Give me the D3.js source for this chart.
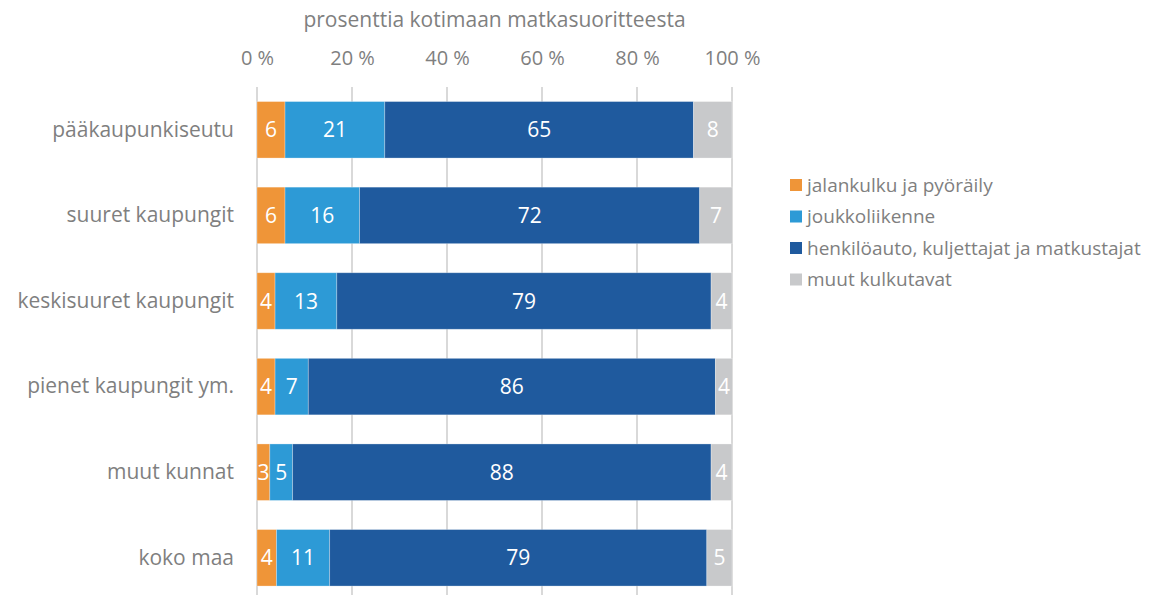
<!DOCTYPE html>
<html>
<head>
<meta charset="utf-8">
<script src="https://cdn.jsdelivr.net/npm/d3@7"></script>
<style>
  body { margin: 0; background: #fff; }
  svg text { font-family: "Open Sans", Lato, sans-serif; }
</style>
</head>
<body>
<svg id="chart" width="1151" height="595"></svg>
<script>
// alueet (ylhäältä alas)
var categories = ["pääkaupunkiseutu", "suuret kaupungit", "keskisuuret kaupungit",
                  "pienet kaupungit ym.", "muut kunnat", "koko maa"];
var seriesNames = ["jalankulku ja pyöräily", "joukkoliikenne",
                   "henkilöauto, kuljettajat ja matkustajat", "muut kulkutavat"];
// osuudet, % (luettu kuvasta)
var walkBike = [5.9, 5.9, 3.8, 3.8, 2.7, 4.1];
var transit  = [21.0, 15.7, 13.0, 7.0, 4.8, 11.2];
var car      = [65.0, 71.6, 78.8, 85.7, 88.1, 79.4];
var other    = [8.1, 6.9, 4.4, 3.6, 4.4, 5.3];
var xTicks = [0, 20, 40, 60, 80, 100];
var colors = ["#EF9538", "#2D9AD6", "#1F5A9E", "#C8C9CB"];

var svg = d3.select("#chart");
var margin = {left: 257, right: 419, top: 87};
var width = 1151 - margin.left - margin.right;
var plotH = 6 * 85.6;

var g = svg.append("g").attr("transform", "translate(" + margin.left + "," + margin.top + ")");

var x = d3.scaleLinear().domain([0, 100]).range([0, width]);
var y = d3.scaleBand().domain(categories).range([0, plotH])
    .paddingInner(0.34).paddingOuter(0.17);

// gridlines
g.append("g").selectAll("line")
    .data(xTicks)
    .enter().append("line")
    .attr("x1", function(d) { return x(d); })
    .attr("x2", function(d) { return x(d); })
    .attr("y1", 0)
    .attr("y2", plotH)
    .attr("stroke", "#D9D9D9")
    .attr("stroke-width", 2);

// top axis
var xAxis = d3.axisTop(x).tickValues(xTicks)
    .tickFormat(function(d) { return d + " %"; })
    .tickSize(0).tickPadding(22);
var ax = g.append("g").call(xAxis);
ax.select(".domain").remove();
ax.selectAll("text").attr("fill", "#7F7F7F").style("font-size", "20px");

svg.append("text")
    .attr("x", margin.left + width / 2)
    .attr("y", 27)
    .attr("text-anchor", "middle")
    .attr("fill", "#7F7F7F")
    .style("font-size", "21px")
    .text("prosenttia kotimaan matkasuoritteesta");

// left axis labels
var yAxis = d3.axisLeft(y).tickSize(0).tickPadding(23);
var ay = g.append("g").call(yAxis);
ay.select(".domain").remove();
ay.selectAll("text").attr("fill", "#7F7F7F").style("font-size", "21px");

// stacked data
var rows = categories.map(function(c, i) {
    return {cat: c, s0: walkBike[i], s1: transit[i], s2: car[i], s3: other[i]};
});
var stack = d3.stack().keys(["s0", "s1", "s2", "s3"]);
var layers = stack(rows);

var layer = g.append("g").selectAll("g")
    .data(layers)
    .enter().append("g")
    .attr("fill", function(d, i) { return colors[i]; });

layer.selectAll("rect")
    .data(function(d) { return d; })
    .enter().append("rect")
    .attr("x", function(d) { return x(d[0]); })
    .attr("y", function(d) { return y(d.data.cat); })
    .attr("width", function(d) { return x(d[1]) - x(d[0]); })
    .attr("height", y.bandwidth())
    .attr("stroke", "#ffffff")
    .attr("stroke-opacity", 0.35)
    .attr("stroke-width", 0.8);

layer.selectAll("text")
    .data(function(d) { return d; })
    .enter().append("text")
    .attr("x", function(d) { return (x(d[0]) + x(d[1])) / 2; })
    .attr("y", function(d) { return y(d.data.cat) + y.bandwidth() / 2; })
    .attr("dy", "0.36em")
    .attr("text-anchor", "middle")
    .attr("fill", "#ffffff")
    .style("font-size", "21px")
    .text(function(d) { return d3.format(".0f")(d[1] - d[0]); });

// legend
var legend = svg.append("g").attr("transform", "translate(790,185)");
var li = legend.selectAll("g")
    .data(seriesNames)
    .enter().append("g")
    .attr("transform", function(d, i) { return "translate(0," + (i * 31.5) + ")"; });
li.append("rect")
    .attr("x", 0).attr("y", -6)
    .attr("width", 12).attr("height", 12)
    .attr("fill", function(d, i) { return colors[i]; });
li.append("text")
    .attr("x", 17)
    .attr("dy", "0.35em")
    .attr("fill", "#7F7F7F")
    .style("font-size", "19px")
    .text(function(d) { return d; });
</script>
</body>
</html>
